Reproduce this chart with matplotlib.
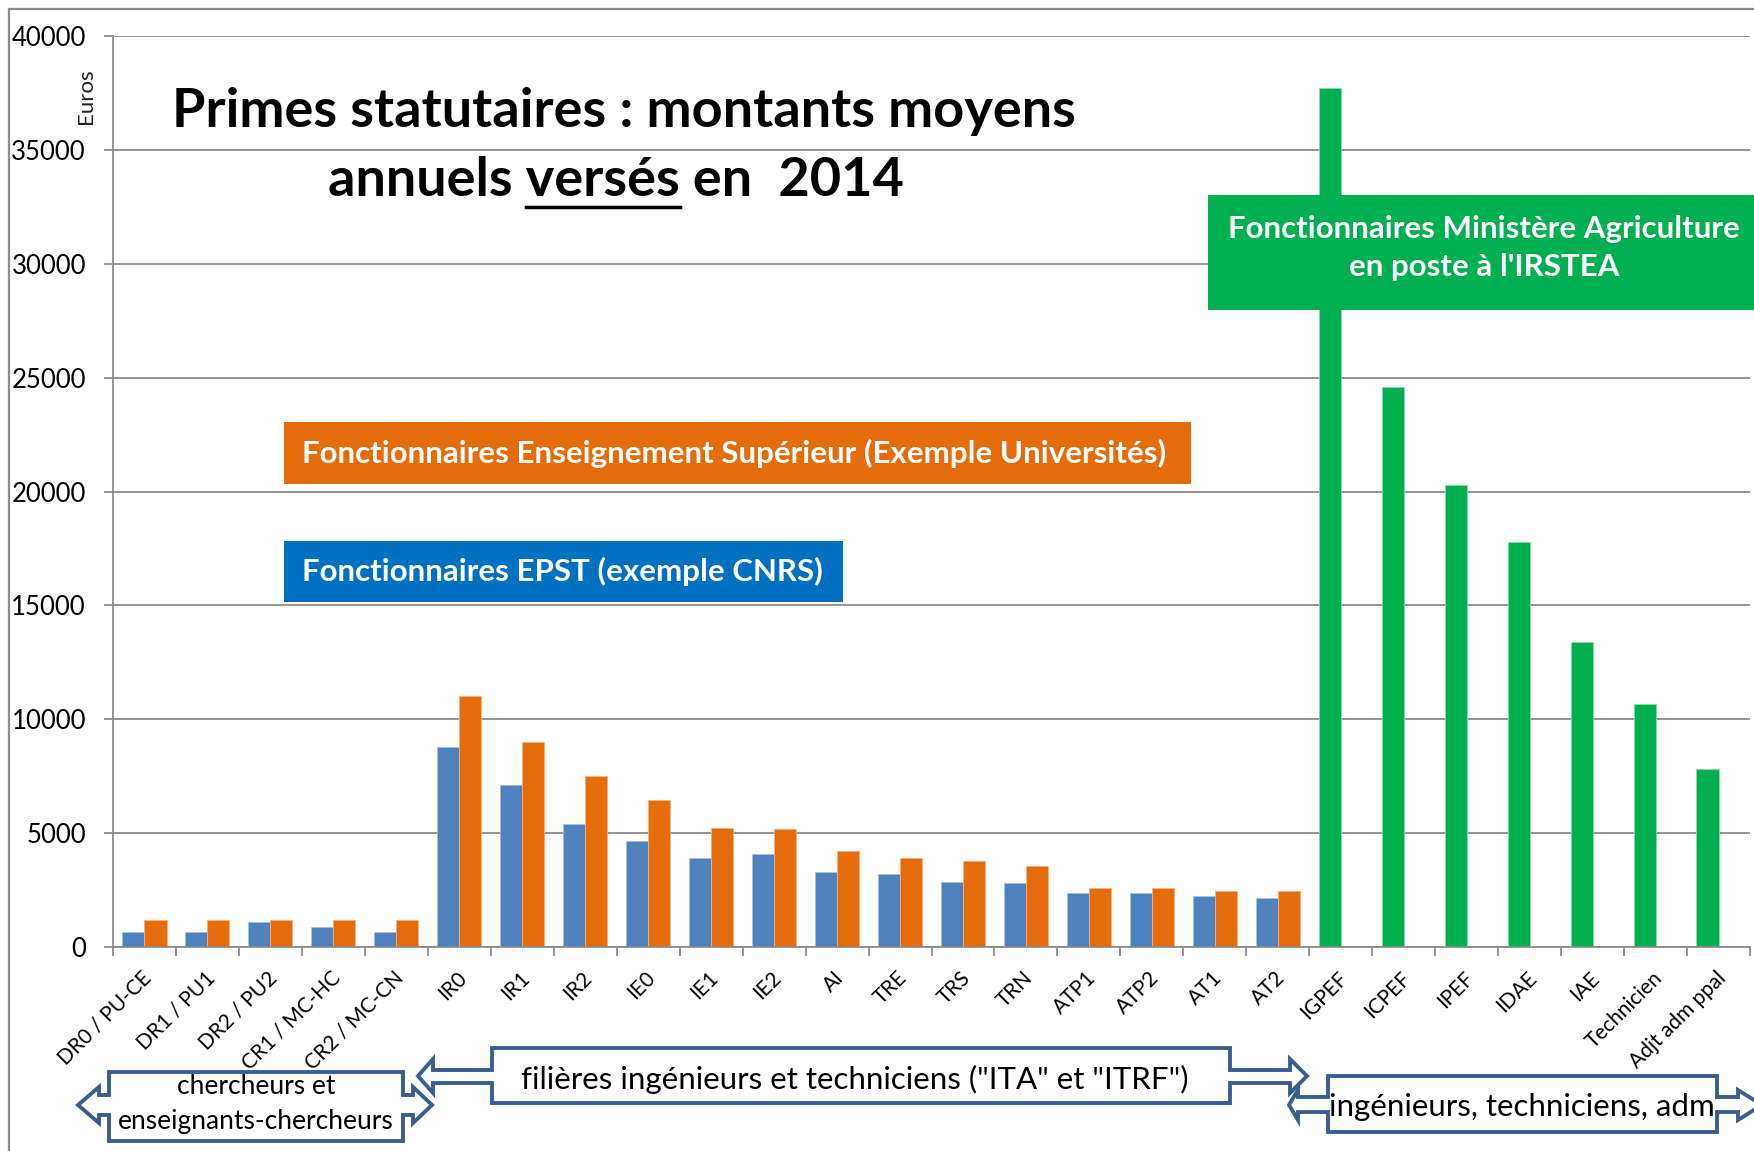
import numpy as np
import matplotlib.pyplot as plt
import matplotlib.transforms as mtransforms
from matplotlib.patches import Rectangle, Polygon

plt.rcParams['font.family'] = ['Lato', 'DejaVu Sans']

W, H = 1754, 1151

# categories
cats_pair = ["DR0 / PU-CE", "DR1 / PU1", "DR2 / PU2", "CR1 / MC-HC", "CR2 / MC-CN",
             "IR0", "IR1", "IR2", "IE0", "IE1", "IE2", "AI", "TRE", "TRS", "TRN",
             "ATP1", "ATP2", "AT1", "AT2"]
cats_agri = ["IGPEF", "ICPEF", "IPEF", "IDAE", "IAE", "Technicien", "Adjt adm ppal"]

# EPST (CNRS) - blue
epst = [650, 650, 1100, 900, 650,
        8800, 7120, 5410, 4640, 3920, 4080, 3280, 3220, 2870, 2820,
        2350, 2350, 2250, 2160]
# Enseignement Superieur (universites) - orange
univ = [1200, 1200, 1200, 1200, 1200,
        11000, 9000, 7520, 6460, 5230, 5190, 4230, 3920, 3790, 3570,
        2600, 2600, 2460, 2460]
# Ministere Agriculture - green
agri = [37700, 24600, 20300, 17800, 13400, 10650, 7800]

labels = cats_pair + cats_agri
blue, orange, green = '#4F81BD', '#E46C0A', '#00B050'
edge_blue = '#3A5F8F'


def fx(x):
    return x / W


def fy(y):
    return 1 - y / H


fig = plt.figure(figsize=(W / 100, H / 100), dpi=100)
ax = fig.add_axes([fx(113), fy(947), fx(1750) - fx(113), fy(36) - fy(947)])

w = 0.35
xp = np.arange(len(cats_pair))
xa = np.arange(len(cats_pair), len(labels))
ax.bar(xp - w / 2, epst, w, color=blue, edgecolor='#A7BFDE', linewidth=0.6, zorder=2)
ax.bar(xp + w / 2, univ, w, color=orange, edgecolor='#F2B183', linewidth=0.6, zorder=2)
ax.bar(xa - w / 2, agri, w, color=green, edgecolor='#8FD9AE', linewidth=0.6, zorder=2)

ax.set_xlim(-0.5, len(labels) - 0.5)
ax.set_ylim(0, 40000)
ax.set_yticks(np.arange(0, 40001, 5000))
ax.yaxis.grid(True, color='#8C8C8C', linewidth=1.3)
ax.set_axisbelow(True)
ax.tick_params(axis='y', length=6.5, color='#8C8C8C', width=1.3, pad=13,
               labelsize=18.5, labelcolor='black')

ax.set_xticks(np.arange(-0.5, len(labels), 1))
ax.set_xticklabels([])
ax.tick_params(axis='x', which='major', length=6.5, color='#8C8C8C', width=1.3)
ax.set_xticks(np.arange(len(labels)), minor=True)
ax.set_xticklabels(labels, minor=True, rotation=45, ha='right', va='center',
                   rotation_mode='anchor', fontsize=15)
ax.tick_params(axis='x', which='minor', length=0, pad=20)
shift = mtransforms.ScaledTranslation(4 / 100, 0, fig.dpi_scale_trans)
for lab in ax.get_xticklabels(minor=True):
    lab.set_transform(lab.get_transform() + shift)

for s in ['top', 'right']:
    ax.spines[s].set_visible(False)
for s in ['left', 'bottom']:
    ax.spines[s].set_color('#8C8C8C')
    ax.spines[s].set_linewidth(1.3)

fig.text(fx(86), fy(96), "Euros", rotation=90, fontsize=16,
         ha='center', va='center', color='#222222')

# outer frame
fig.patches.append(Rectangle((fx(9), fy(1200)), fx(1800), fy(9) - fy(1200),
                             transform=fig.transFigure, fill=False,
                             edgecolor='#8C8C8C', linewidth=1.6, zorder=5))

# title
tsize = 39
fig.text(fx(624), fy(111), "Primes statutaires : montants moyens",
         fontsize=tsize, fontweight='bold', ha='center', va='center')
t2 = fig.text(fx(616), fy(181), "annuels versés en  2014",
              fontsize=tsize, fontweight='bold', ha='center', va='center')


# colored label boxes
def label_box(x0, y0, x1, y1, color):
    fig.patches.append(Rectangle((fx(x0), fy(y1)), fx(x1) - fx(x0), fy(y0) - fy(y1),
                                 transform=fig.transFigure, facecolor=color,
                                 edgecolor='none', zorder=3))


bsize = 22.5
label_box(284, 422, 1191, 484, orange)
fig.text(fx(302), fy(453), "Fonctionnaires Enseignement Supérieur (Exemple Universités)",
         fontsize=bsize, fontweight='bold', color='white', ha='left', va='center', zorder=4)
label_box(284, 541, 843, 602, '#0070C0')
fig.text(fx(302), fy(571), "Fonctionnaires EPST (exemple CNRS)",
         fontsize=bsize, fontweight='bold', color='white', ha='left', va='center', zorder=4)
label_box(1208, 195, 1770, 310, green)
fig.text(fx(1484), fy(248), "Fonctionnaires Ministère Agriculture\nen poste à l'IRSTEA",
         fontsize=bsize, fontweight='bold', color='white', ha='center', va='center',
         linespacing=1.4, zorder=4)


# left-right arrow callouts
def callout(x0, x1, y0, y1, sy0, sy1, hy0, hy1, yc, nl, tl, nr, tr):
    pts = [(x0, y0), (x1, y0), (x1, sy0), (nr, sy0), (nr, hy0), (tr, yc), (nr, hy1),
           (nr, sy1), (x1, sy1), (x1, y1), (x0, y1), (x0, sy1), (nl, sy1), (nl, hy1),
           (tl, yc), (nl, hy0), (nl, sy0), (x0, sy0)]
    pts = [(fx(a), fy(b)) for a, b in pts]
    fig.patches.append(Polygon(pts, closed=True, transform=fig.transFigure,
                               facecolor='white', edgecolor=edge_blue,
                               linewidth=2.8, joinstyle='miter', zorder=3))


callout(109, 403, 1072, 1141, 1095, 1115, 1087, 1123, 1105, 99, 78, 413, 432)
fig.text(fx(256), fy(1087), "chercheurs et", fontsize=19, ha='center', va='center', zorder=4)
fig.text(fx(256), fy(1122), "enseignants-chercheurs", fontsize=19, ha='center', va='center', zorder=4)

callout(492, 1230, 1048, 1103, 1070, 1083, 1059, 1093, 1076, 433, 418, 1290, 1307)
fig.text(fx(855), fy(1079), 'filières ingénieurs et techniciens ("ITA" et "ITRF")',
         fontsize=22.5, ha='center', va='center', zorder=4)

callout(1328, 1717, 1076, 1132, 1097, 1112, 1090, 1120, 1105, 1298, 1289, 1738, 1762)
fig.text(fx(1522), fy(1107), "ingénieurs, techniciens, adm",
         fontsize=22.5, ha='center', va='center', zorder=4)

# underline "versés"
fig.canvas.draw()
r = fig.canvas.get_renderer()
bb = t2.get_window_extent(r)
tmp1 = fig.text(0, 0, "annuels versés", fontsize=tsize, fontweight='bold')
tmp2 = fig.text(0, 0, "versés", fontsize=tsize, fontweight='bold')
w1 = tmp1.get_window_extent(r).width
w2 = tmp2.get_window_extent(r).width
tmp1.remove()
tmp2.remove()
x_end = bb.x0 + w1
x_start = x_end - w2
y_line = bb.y0 - 1
fig.add_artist(plt.Line2D([x_start / W, x_end / W], [y_line / H, y_line / H],
                          transform=fig.transFigure, color='black', linewidth=2.5))

fig.savefig('out.png', dpi=100)
